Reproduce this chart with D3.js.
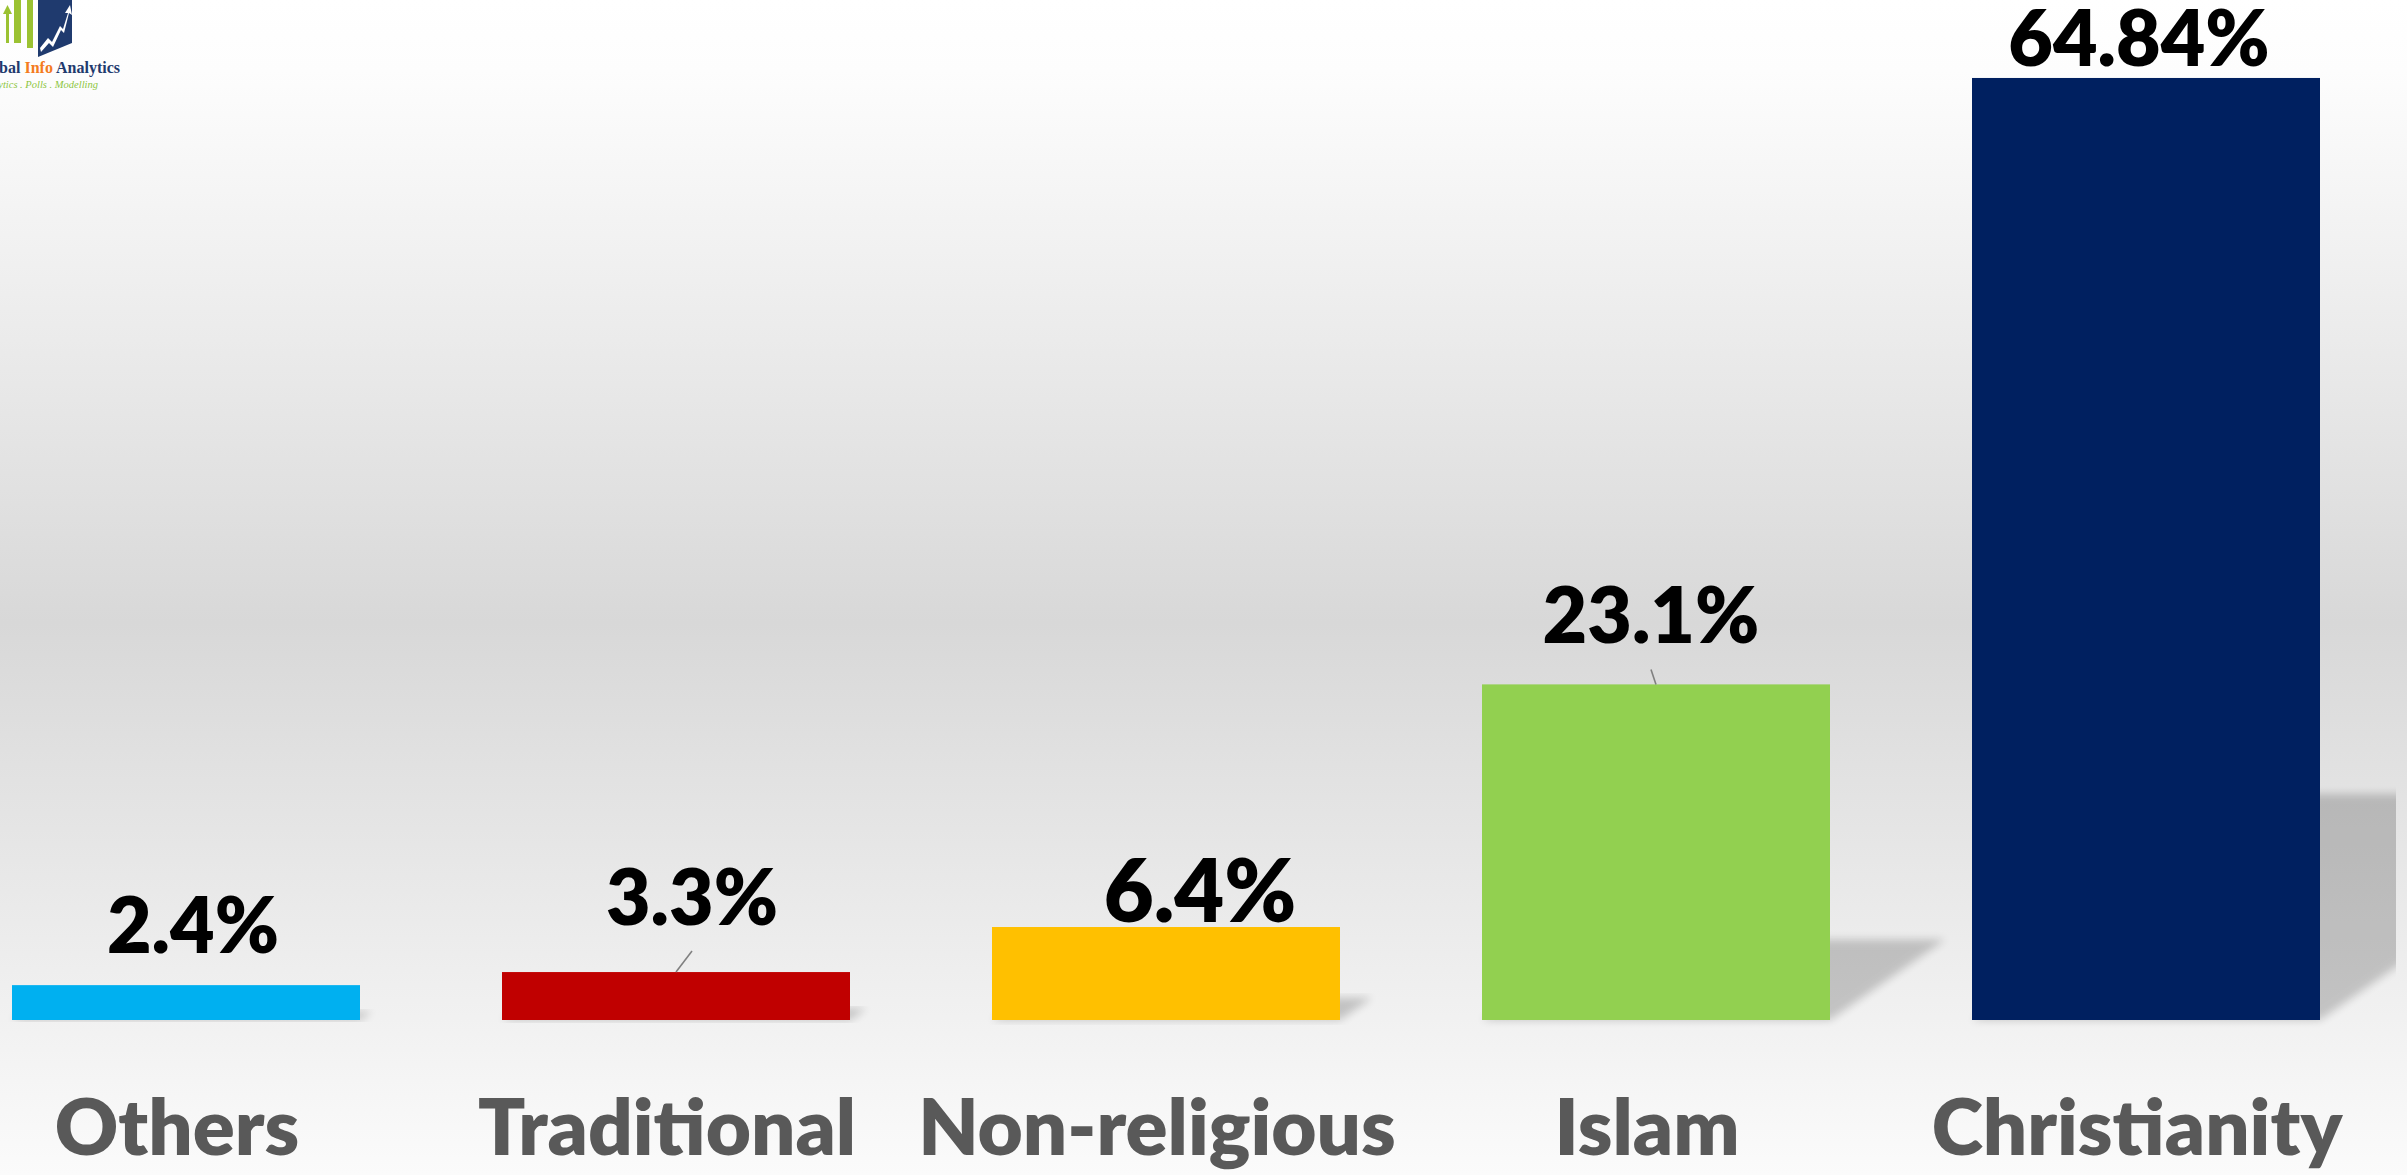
<!DOCTYPE html>
<html><head><meta charset="utf-8">
<script src="https://cdn.jsdelivr.net/npm/d3@7"></script>
<style>html,body{margin:0;padding:0;overflow:hidden;background:#fff}svg{display:block}</style>
</head><body><svg id="chart"></svg>
<script>
// ---- data ----
const categories = ["Others", "Traditional", "Non-religious", "Islam", "Christianity"];
const values = [2.4, 3.3, 6.4, 23.1, 64.84];
const valueLabels = ["2.4%", "3.3%", "6.4%", "23.1%", "64.84%"];
const colors = ["#00b0f0", "#c00000", "#ffc000", "#92d050", "#002060"];
// ---- label layout (manual nudges as in the original slide) ----
const labelDx = [7, 16, 34, -5, -7];
const labelGap = [32, 47, 5, 41, 12];
const labelSize = [1, 1, 1.12, 1, 1];

const W = 2407, H = 1175;
const svg = d3.select("#chart").attr("width", W).attr("height", H);
const defs = svg.append("defs");

const grad = defs.append("linearGradient").attr("id", "bg").attr("x1", 0).attr("y1", 0).attr("x2", 0).attr("y2", 1);
[[0, "#ffffff"], [0.06, "#fdfdfd"], [0.53, "#d8d8d8"], [1, "#fbfbfb"]].forEach(([o, c]) =>
  grad.append("stop").attr("offset", o).attr("stop-color", c));
svg.append("rect").attr("width", W).attr("height", H).attr("fill", "url(#bg)");

defs.append("filter").attr("id", "blur").attr("x", "-20%").attr("y", "-20%").attr("width", "140%").attr("height", "140%")
  .append("feGaussianBlur").attr("stdDeviation", 4);
defs.append("clipPath").attr("id", "plotclip").append("rect").attr("x", 0).attr("y", 0).attr("width", 2396).attr("height", H);

const x = d3.scaleBand().domain(categories).range([12, 2320]).paddingInner(142 / 490).paddingOuter(0);
const y = d3.scaleLinear().domain([0, 70]).range([1020, 3]);
const data = categories.map((c, i) => ({c, v: values[i], label: valueLabels[i], color: colors[i], i}));

// perspective shadows
const shadowG = svg.append("g").attr("clip-path", "url(#plotclip)");
shadowG.selectAll("path").data(data).join("path")
  .attr("d", d => {
    const L = x(d.c), R = L + x.bandwidth(), B = y(0);
    const hs = 0.24 * (B - y(d.v)), sh = hs / 0.7;
    return `M${L},${B}L${R},${B}L${R + sh},${B - hs}L${L + sh},${B - hs}Z`;
  })
  .attr("fill", "#000").attr("opacity", 0.19).attr("filter", "url(#blur)");

// bars
svg.append("g").selectAll("rect").data(data).join("rect")
  .attr("x", d => x(d.c)).attr("y", d => y(d.v))
  .attr("width", x.bandwidth()).attr("height", d => y(0) - y(d.v))
  .attr("fill", d => d.color);

const font = "Lato, 'Open Sans', sans-serif";
const cx = d => x(d.c) + x.bandwidth() / 2;

// leader lines
svg.append("g").selectAll("line").data(data.filter(d => labelGap[d.i] > 35)).join("line")
  .attr("x1", d => cx(d)).attr("y1", d => y(d.v))
  .attr("x2", d => cx(d) + labelDx[d.i]).attr("y2", d => y(d.v) - labelGap[d.i] + 26)
  .attr("stroke", "#808080").attr("stroke-width", 1.6);

// value labels
svg.append("g").selectAll("text").data(data).join("text")
  .attr("x", d => cx(d) + labelDx[d.i]).attr("y", d => y(d.v) - labelGap[d.i])
  .attr("text-anchor", "middle").attr("font-family", font).attr("font-weight", 800)
  .attr("font-size", d => 77 * labelSize[d.i]).attr("fill", "#000")
  .text(d => d.label);

// category labels (axis)
const axis = d3.axisBottom(x).tickSize(0).tickPadding(0);
const ax = svg.append("g").attr("transform", `translate(-9,1155)`).call(axis);
ax.select(".domain").remove();
ax.selectAll("text").attr("dy", 0).attr("font-family", font).attr("font-weight", 800)
  .attr("font-size", 78).attr("fill", "#595959");

// logo (partially cropped at the slide edge)
const logo = svg.append("g");
logo.append("rect").attr("x", 6).attr("y", 13).attr("width", 3).attr("height", 30).attr("fill", "#9bc232");
logo.append("path").attr("d", "M3,14L7.5,5L12,14Z").attr("fill", "#9bc232");
logo.append("rect").attr("x", 14).attr("y", 0).attr("width", 7).attr("height", 43).attr("fill", "#9bc232");
logo.append("rect").attr("x", 27).attr("y", 0).attr("width", 6).attr("height", 48).attr("fill", "#9bc232");
logo.append("path").attr("d", "M38,0L72,0L72,43L38,57Z").attr("fill", "#1f3a6e");
logo.append("path").attr("d", "M40,48L48,38L52,42L60,26L63,29L68,13L65,13L70,5L72,15L69,13L64,33L61,30L53,47L49,43L41,52Z").attr("fill", "#fff");
const lt = logo.append("text").attr("x", 120).attr("y", 73).attr("text-anchor", "end")
  .attr("font-family", "'Liberation Serif', serif").attr("font-weight", 700).attr("font-size", 16);
lt.append("tspan").attr("fill", "#1f3a6e").text("Global ");
lt.append("tspan").attr("fill", "#f47b20").text("Info ");
lt.append("tspan").attr("fill", "#1f3a6e").text("Analytics");
logo.append("text").attr("x", 98).attr("y", 88).attr("text-anchor", "end")
  .attr("font-family", "'Liberation Serif', serif").attr("font-style", "italic").attr("font-size", 10.5)
  .attr("fill", "#8dc63f").text("Analytics . Polls . Modelling");
</script></body></html>
